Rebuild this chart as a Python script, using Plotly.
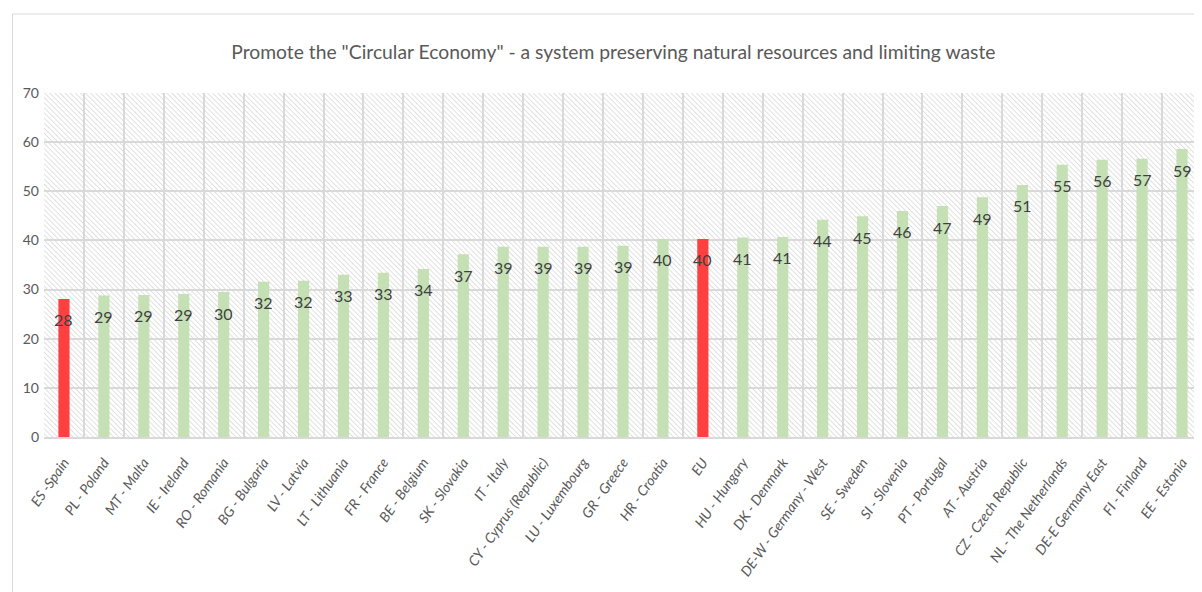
import base64
import plotly.graph_objects as go

categories = ["ES -Spain", "PL - Poland", "MT - Malta", "IE - Ireland", "RO - Romania",
              "BG - Bulgaria", "LV - Latvia", "LT - Lithuania", "FR - France", "BE - Belgium",
              "SK - Slovakia", "IT - Italy", "CY - Cyprus (Republic)", "LU - Luxembourg",
              "GR - Greece", "HR - Croatia", "EU", "HU - Hungary", "DK - Denmark",
              "DE-W - Germany - West", "SE - Sweden", "SI - Slovenia", "PT - Portugal",
              "AT - Austria", "CZ - Czech Republic", "NL - The Netherlands",
              "DE-E Germany East", "FI - Finland", "EE - Estonia"]
values = [28.1, 28.8, 28.9, 29.1, 29.5, 31.6, 31.8, 33.0, 33.4, 34.2,
          37.2, 38.7, 38.7, 38.7, 38.9, 40.3, 40.3, 40.6, 40.7,
          44.2, 44.9, 46.0, 47.0, 48.8, 51.3, 55.4, 56.4, 56.6, 58.6]
labels = ["28", "29", "29", "29", "30", "32", "32", "33", "33", "34",
          "37", "39", "39", "39", "39", "40", "40", "41", "41",
          "44", "45", "46", "47", "49", "51", "55", "56", "57", "59"]
highlight = ["ES -Spain", "EU"]
y_ticks = [0, 10, 20, 30, 40, 50, 60, 70]
title = 'Promote the "Circular Economy" - a system preserving natural resources and limiting waste'

GREEN = "#c5e0b4"
RED = "#ff4040"
FONT = "Lato, 'Open Sans', sans-serif"

colors = [RED if c in highlight else GREEN for c in categories]

# hatched plot-area background (decoration)
W, H = 1158, 344
svg = (f'<svg xmlns="http://www.w3.org/2000/svg" width="{W}" height="{H}">'
       '<defs><pattern id="h" width="3.6" height="3.6" patternUnits="userSpaceOnUse" '
       'patternTransform="rotate(-45)"><rect width="3.6" height="3.6" fill="#ffffff"/>'
       '<line x1="0" y1="0" x2="0" y2="3.6" stroke="#d2d2d2" stroke-width="1.3"/></pattern></defs>'
       f'<rect width="{W}" height="{H}" fill="url(#h)"/></svg>')
hatch_src = "data:image/svg+xml;base64," + base64.b64encode(svg.encode()).decode()

fig = go.Figure()
fig.add_trace(go.Bar(x=categories, y=values, marker=dict(color=colors, line=dict(width=0)),
                     width=0.28, hoverinfo="x+y"))

for c, v, t in zip(categories, values, labels):
    fig.add_annotation(x=c, y=v, text=t, showarrow=False, yshift=-21,
                       font=dict(family=FONT, size=16, color="#404040"))

fig.update_layout(
    width=1194, height=584,
    margin=dict(l=36, r=0, t=85, b=155),
    paper_bgcolor="white", plot_bgcolor="white",
    showlegend=False,
    title=dict(text=title, x=0.507, xanchor="center", y=0.925, yanchor="middle",
               font=dict(family=FONT, size=19.3, color="#595959")),
    images=[dict(source=hatch_src, xref="paper", yref="paper", x=0, y=1,
                 sizex=1, sizey=1, sizing="stretch", layer="below",
                 xanchor="left", yanchor="top")],
    shapes=[dict(type="rect", xref="paper", yref="paper",
                 x0=-0.0272, x1=1.05, y0=-0.5, y1=1.2297,
                 line=dict(color="#d9d9d9", width=1), fillcolor="rgba(0,0,0,0)",
                 layer="below")],
)
fig.update_xaxes(type="category", tickson="boundaries", showgrid=True,
                 gridcolor="#d9d9d9", gridwidth=1.5, ticks="", tickangle=-55,
                 ticklabelstandoff=10,
                 showline=True, linecolor="#d9d9d9", linewidth=1.5,
                 tickfont=dict(family=FONT, size=14, color="#595959", style="italic"))
fig.update_yaxes(range=[0, 70], tickvals=y_ticks, showgrid=True, gridcolor="#d9d9d9",
                 gridwidth=1.5, zeroline=False, ticks="", showline=False,
                 ticklabelstandoff=4,
                 tickfont=dict(family=FONT, size=14, color="#595959"))

fig.write_html("out.html")
